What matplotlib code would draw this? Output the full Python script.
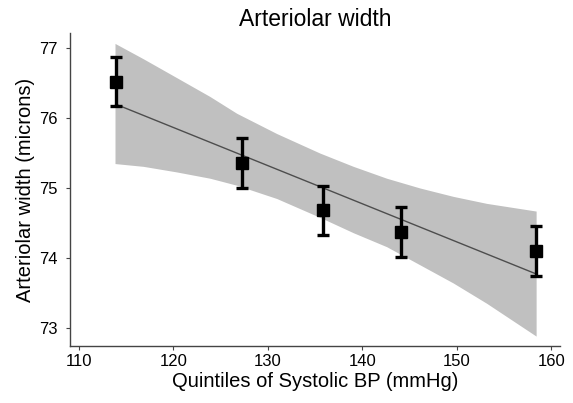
import matplotlib
matplotlib.use("Agg")
import matplotlib.pyplot as plt

plt.rcParams['font.family'] = ['Liberation Sans', 'DejaVu Sans']

# Data
quintile_x = [113.9, 127.3, 135.8, 144.1, 158.4]
width_mean = [76.52, 75.36, 74.68, 74.37, 74.10]
width_err = [0.35, 0.36, 0.35, 0.36, 0.36]

fit_x = [113.9, 158.4]
fit_y = [76.20, 73.77]

band_x = [113.83, 116.83, 120.36, 123.88, 126.71, 130.94, 135.52, 139.05,
          142.58, 146.11, 149.63, 153.16, 158.4]
band_upper = [77.07, 76.85, 76.58, 76.31, 76.07, 75.78, 75.50, 75.31,
              75.14, 75.00, 74.88, 74.78, 74.67]
band_lower = [75.35, 75.31, 75.23, 75.14, 75.04, 74.85, 74.58, 74.36,
              74.16, 73.90, 73.64, 73.35, 72.88]

x_ticks = [110, 120, 130, 140, 150, 160]
y_ticks = [73, 74, 75, 76, 77]

fig = plt.figure(figsize=(5.73, 4.03), dpi=100)
ax = fig.add_axes([0.1222, 0.1414, 0.855, 0.776])

ax.fill_between(band_x, band_lower, band_upper, color='#c0c0c0', lw=0, zorder=1)
ax.plot(fit_x, fit_y, color='#4d4d4d', lw=1.0, zorder=2)
ax.errorbar(quintile_x, width_mean, yerr=width_err, fmt='s', color='black',
            markersize=8.5, elinewidth=2.4, capsize=4.5, capthick=2.4, zorder=3)

ax.set_xlim(109.07, 160.92)
ax.set_ylim(72.738, 77.215)
ax.set_xticks(x_ticks)
ax.set_yticks(y_ticks)

for s in ['top', 'right']:
    ax.spines[s].set_visible(False)
for s in ['left', 'bottom']:
    ax.spines[s].set_color('#444444')
    ax.spines[s].set_linewidth(1.0)

ax.tick_params(axis='both', direction='out', length=3, width=0.8,
               color='#444444', labelsize=12)
ax.tick_params(axis='x', pad=3)
ax.tick_params(axis='y', pad=6)

ax.set_title('Arteriolar width', fontsize=16.5, pad=5)
ax.set_xlabel('Quintiles of Systolic BP (mmHg)', fontsize=14.5, labelpad=2)
ax.set_ylabel('Arteriolar width (microns)', fontsize=14.5, labelpad=3)

fig.savefig('out.png', dpi=100)
